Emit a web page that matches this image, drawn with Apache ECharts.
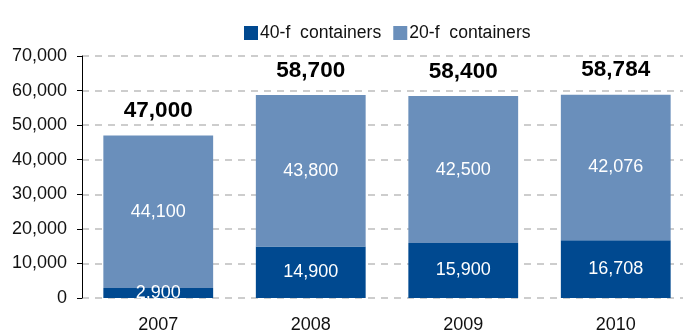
<!DOCTYPE html>
<html>
<head>
<meta charset="utf-8">
<script src="https://cdn.jsdelivr.net/npm/echarts@6/dist/echarts.min.js"></script>
<style>html,body{margin:0;padding:0;background:#fff;overflow:hidden;width:683px;height:335px;}#c{width:700px;height:335px;}</style>
</head>
<body>
<div id="c"></div>
<script>
var categories = ['2007', '2008', '2009', '2010'];
var containers40 = [2900, 14900, 15900, 16708];
var containers20 = [44100, 43800, 42500, 42076];
var totals = [47000, 58700, 58400, 58784];
var seriesNames = ['40-f  containers', '20-f  containers'];

function fmt(v) { return Number(v).toLocaleString('en-US'); }

var FONT = '"Liberation Sans", Arial, sans-serif';
var chart = echarts.init(document.getElementById('c'));
chart.setOption({
  animation: false,
  textStyle: { fontFamily: FONT },
  legend: {
    data: seriesNames,
    left: 239, top: 19,
    itemWidth: 14, itemHeight: 14, itemGap: 12,
    icon: 'rect',
    textStyle: { fontFamily: FONT, fontSize: 17.6, color: '#111', padding: [0, 0, 0, -3] }
  },
  grid: { left: 82, right: 8, top: 56, bottom: 37, containLabel: false },
  xAxis: {
    type: 'category',
    data: categories,
    axisLine: { show: false },
    axisTick: { show: false },
    axisLabel: { fontFamily: FONT, fontSize: 18, color: '#111', margin: 18 }
  },
  yAxis: {
    type: 'value',
    min: 0, max: 70000, interval: 10000,
    axisLine: { show: true, lineStyle: { color: '#000', width: 1 } },
    axisTick: { show: true, length: 5, lineStyle: { color: '#000' } },
    axisLabel: { fontFamily: FONT, fontSize: 18, color: '#111', margin: 15, formatter: fmt },
    splitLine: { show: true, lineStyle: { color: '#bdbdbd', width: 1.5, type: [7, 6] } }
  },
  series: [
    {
      name: seriesNames[0], type: 'bar', stack: 's', data: containers40,
      barCategoryGap: '28%',
      itemStyle: { color: '#004990' },
      label: { show: true, position: 'inside', color: '#fff', fontSize: 18, fontFamily: FONT,
        formatter: function (p) { return fmt(p.value); } }
    },
    {
      name: seriesNames[1], type: 'bar', stack: 's', data: containers20,
      itemStyle: { color: '#6a8fbb' },
      label: { show: true, position: 'inside', color: '#fff', fontSize: 18, fontFamily: FONT,
        formatter: function (p) { return fmt(p.value); } }
    },
    {
      name: 'total', type: 'bar', stack: 's', data: totals.map(function () { return 0; }),
      itemStyle: { color: 'transparent' },
      label: { show: true, position: 'top', distance: 13, color: '#000', fontSize: 22.5, fontWeight: 'bold', fontFamily: FONT,
        formatter: function (p) { return fmt(totals[p.dataIndex]); } }
    }
  ]
});
</script>
</body>
</html>
